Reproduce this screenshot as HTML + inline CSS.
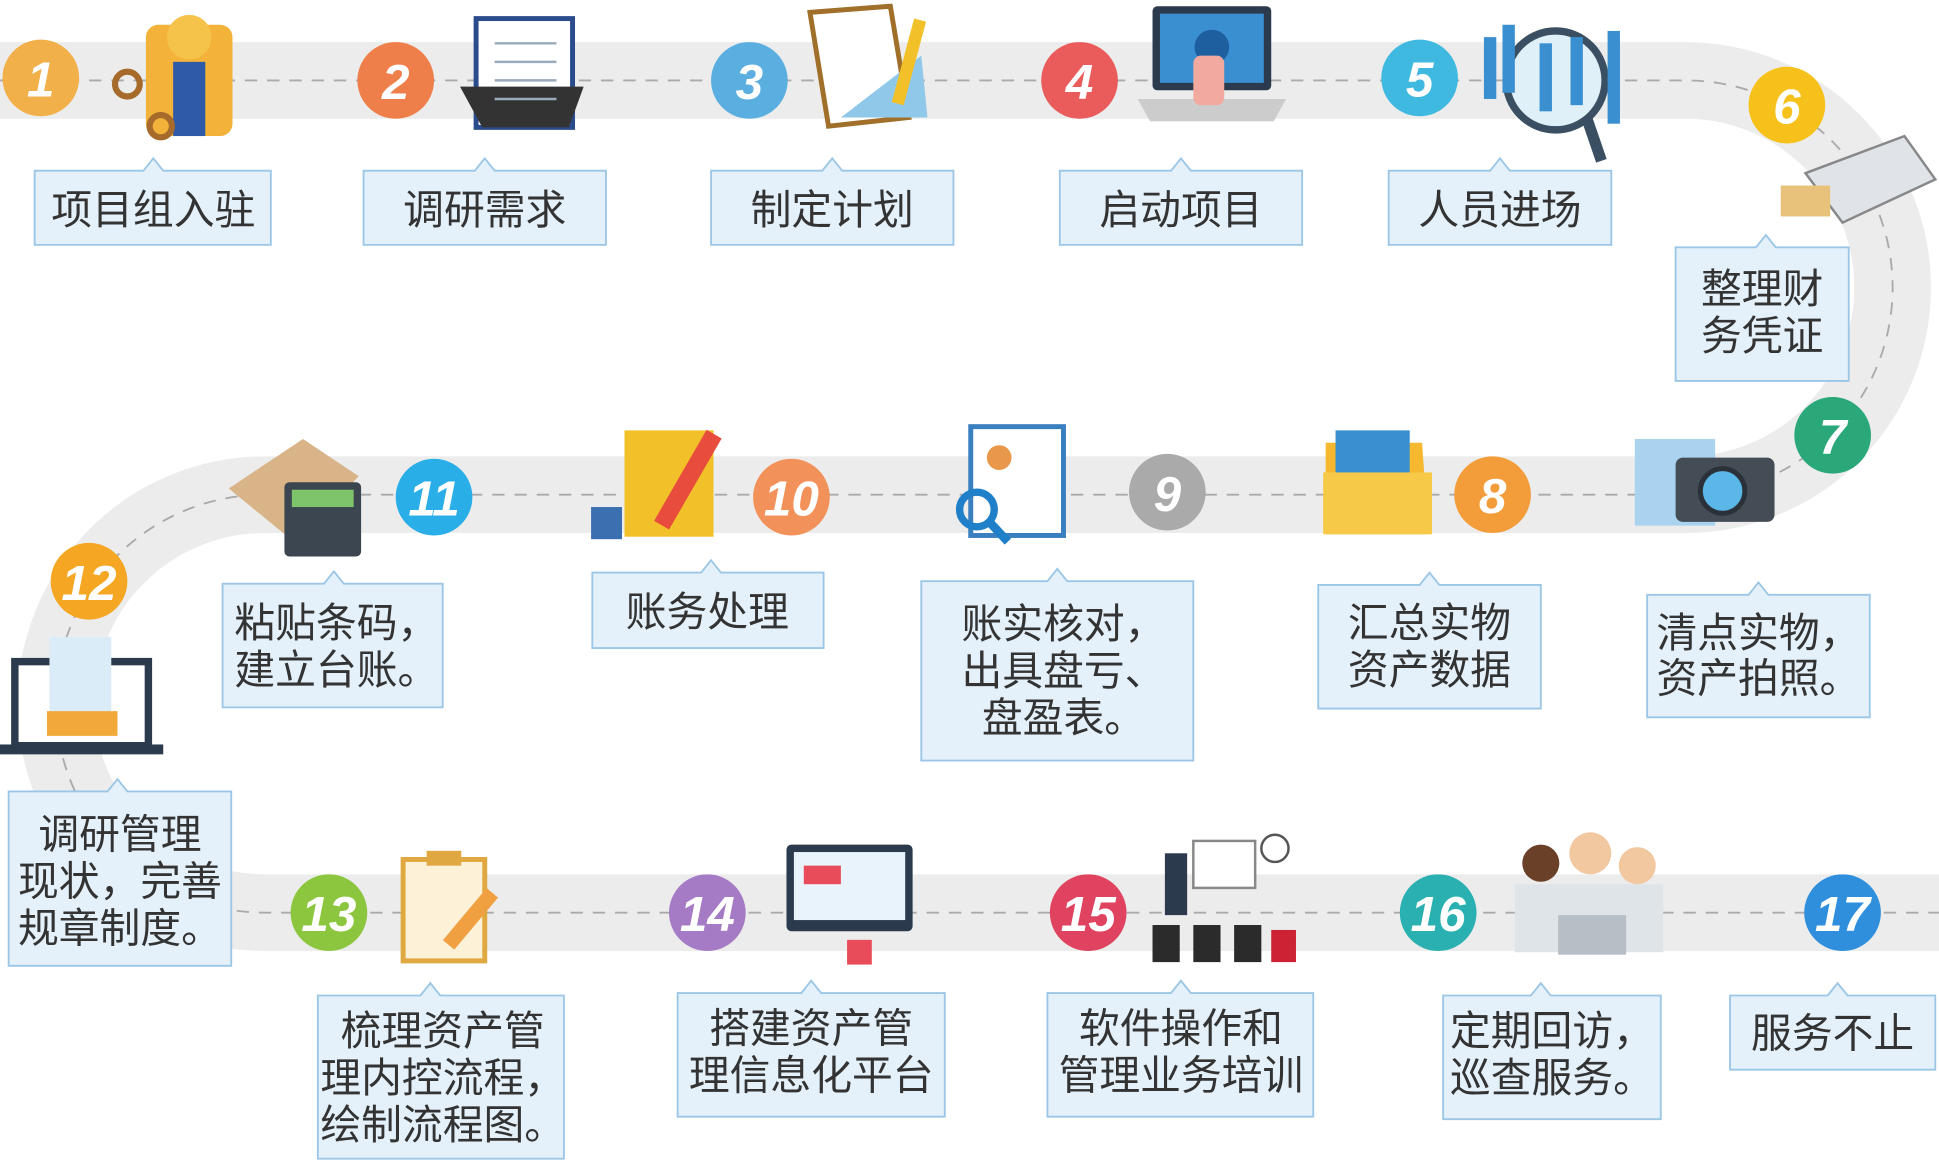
<!DOCTYPE html>
<html><head><meta charset="utf-8"><style>
html,body{margin:0;padding:0;background:#fff;}
svg{display:block;}
text{font-family:"Liberation Sans","Noto Sans CJK SC",sans-serif;}
.lb{font-size:33px;fill:#333;}
.num{font-size:40px;font-weight:bold;font-style:italic;fill:#fff;}
</style></head><body>
<svg width="1939" height="1160" viewBox="0 0 1568 938" xmlns="http://www.w3.org/2000/svg">
<path d="M0,65 L1363,65 A167,167 0 0 1 1363,400 L214,400 A169,169 0 0 0 214,738 L1568,738" fill="none" stroke="#ececec" stroke-width="62"/>
<path d="M0,65 L1363,65 A167,167 0 0 1 1363,400 L214,400 A169,169 0 0 0 214,738 L1568,738" fill="none" stroke="#aaa" stroke-width="1.5" stroke-dasharray="10,8"/>

<g>
<rect x="118" y="20" width="70" height="90" rx="10" fill="#f3b23a"/><circle cx="153" cy="30" r="18" fill="#f5c24a"/><rect x="140" y="50" width="26" height="60" fill="#2e5aa8"/>
<circle cx="103" cy="68" r="10" fill="none" stroke="#a66a2a" stroke-width="5"/><circle cx="130" cy="102" r="9" fill="none" stroke="#a66a2a" stroke-width="5"/>
<rect x="385" y="15" width="78" height="88" fill="#fff" stroke="#2b4c8c" stroke-width="4"/><path d="M372,70 L390,103 L460,103 L472,70" fill="#333"/><g stroke="#9ab" stroke-width="2"><line x1="400" y1="35" x2="450" y2="35"/><line x1="400" y1="50" x2="450" y2="50"/><line x1="400" y1="65" x2="450" y2="65"/><line x1="400" y1="80" x2="450" y2="80"/></g>
<path d="M655,10 L720,5 L735,95 L670,102 Z" fill="#fff" stroke="#a0702a" stroke-width="4"/><path d="M680,95 L745,45 L750,95 Z" fill="#8fc8e8"/><rect x="730" y="15" width="10" height="70" fill="#f2c12a" transform="rotate(15 735 50)"/>
<rect x="932" y="5" width="96" height="68" rx="4" fill="#2b3a4c"/><rect x="938" y="11" width="84" height="56" fill="#3a8fd0"/><circle cx="980" cy="38" r="14" fill="#1e5fa0"/><path d="M920,80 L1040,80 L1030,98 L930,98 Z" fill="#ccc"/><rect x="965" y="45" width="25" height="40" rx="6" fill="#f1a9a0"/>
<circle cx="1258" cy="65" r="40" fill="#dff0f8" stroke="#3b4f63" stroke-width="6"/><line x1="1283" y1="95" x2="1295" y2="130" stroke="#3b4f63" stroke-width="9"/>
<g fill="#3a8fd0"><rect x="1200" y="30" width="10" height="50"/><rect x="1215" y="20" width="10" height="55"/><rect x="1245" y="35" width="10" height="55"/><rect x="1270" y="30" width="10" height="55"/><rect x="1300" y="25" width="10" height="75"/></g>
<path d="M1460,140 L1540,110 L1565,145 L1490,180 Z" fill="#e0e4e8" stroke="#888" stroke-width="2"/><rect x="1440" y="150" width="40" height="25" fill="#e8c27a"/>
<rect x="1322" y="355" width="65" height="70" fill="#a9d3ef"/><rect x="1355" y="370" width="80" height="52" rx="6" fill="#444c55"/><circle cx="1393" cy="397" r="18" fill="#5ab7e8" stroke="#2a3138" stroke-width="4"/>
<path d="M1072,358 L1150,358 L1155,432 L1072,432 Z" fill="#f5b82e"/><rect x="1080" y="348" width="60" height="40" fill="#3a8fd0"/><rect x="1070" y="382" width="88" height="50" fill="#f7c948"/>
<rect x="785" y="345" width="75" height="88" fill="#fff" stroke="#3a7fbf" stroke-width="4"/><circle cx="808" cy="370" r="10" fill="#e9974a"/><circle cx="790" cy="412" r="14" fill="none" stroke="#1f7fc8" stroke-width="6"/><line x1="800" y1="422" x2="815" y2="438" stroke="#1f7fc8" stroke-width="7"/>
<rect x="505" y="348" width="72" height="86" fill="#f2c12a"/><rect x="548" y="345" width="14" height="85" fill="#e84c3d" transform="rotate(30 555 390)"/><rect x="478" y="410" width="25" height="26" fill="#3a6fb0"/>
<path d="M185,395 L245,355 L290,385 L240,440 Z" fill="#d9b489"/><rect x="230" y="390" width="62" height="60" rx="4" fill="#3c4650"/><rect x="236" y="396" width="50" height="14" fill="#7ec46a"/>
<rect x="12" y="535" width="108" height="68" fill="#fff" stroke="#2b3a4c" stroke-width="6"/><rect x="0" y="602" width="132" height="8" fill="#2b3a4c"/><rect x="40" y="515" width="50" height="70" fill="#d9ecf8"/><path d="M38,575 L95,575 L95,595 L38,595 Z" fill="#f2a93a"/>
<rect x="326" y="695" width="66" height="82" fill="#fdf1d8" stroke="#e0a840" stroke-width="4"/><rect x="345" y="688" width="28" height="12" fill="#e0a840"/><rect x="375" y="715" width="12" height="55" fill="#f0a040" transform="rotate(40 380 742)"/>
<rect x="636" y="683" width="102" height="70" rx="4" fill="#2b3a4c"/><rect x="642" y="689" width="90" height="55" fill="#e9f3fb"/><rect x="650" y="700" width="30" height="15" fill="#e84c5a"/><rect x="685" y="760" width="20" height="20" fill="#e84c5a"/>
<rect x="965" y="680" width="50" height="38" fill="#fff" stroke="#888" stroke-width="2"/><circle cx="1031" cy="686" r="11" fill="none" stroke="#555" stroke-width="2"/><rect x="942" y="690" width="18" height="50" fill="#2b3a4c"/>
<g fill="#2b2b2b"><rect x="932" y="748" width="22" height="30"/><rect x="965" y="748" width="22" height="30"/><rect x="998" y="748" width="22" height="30"/><rect x="1028" y="752" width="20" height="26" fill="#c23"/></g>
<circle cx="1246" cy="698" r="15" fill="#6a4028"/><circle cx="1286" cy="690" r="17" fill="#f1c8a0"/><circle cx="1324" cy="700" r="15" fill="#f1c8a0"/><path d="M1225,715 L1345,715 L1345,770 L1225,770 Z" fill="#dfe4e8"/><rect x="1260" y="740" width="55" height="32" fill="#b7bfc6"/>
</g>

<g>
<circle cx="33" cy="63" r="31" fill="#f2b04a"/><text class="num" x="33" y="78" text-anchor="middle">1</text>
<circle cx="320" cy="65" r="31" fill="#ef7f4a"/><text class="num" x="320" y="80" text-anchor="middle">2</text>
<circle cx="606" cy="65" r="31" fill="#5aaee0"/><text class="num" x="606" y="80" text-anchor="middle">3</text>
<circle cx="873" cy="65" r="31" fill="#ea5b5b"/><text class="num" x="873" y="80" text-anchor="middle">4</text>
<circle cx="1148" cy="63" r="31" fill="#40b9e0"/><text class="num" x="1148" y="78" text-anchor="middle">5</text>
<circle cx="1445" cy="85" r="31" fill="#f5c11a"/><text class="num" x="1445" y="100" text-anchor="middle">6</text>
<circle cx="1482" cy="352" r="31" fill="#2aa87a"/><text class="num" x="1482" y="367" text-anchor="middle">7</text>
<circle cx="1207" cy="400" r="31" fill="#f39c3a"/><text class="num" x="1207" y="415" text-anchor="middle">8</text>
<circle cx="944" cy="398" r="31" fill="#aaaaaa"/><text class="num" x="944" y="413" text-anchor="middle">9</text>
<circle cx="640" cy="402" r="31" fill="#f2915a"/><text class="num" x="640" y="417" text-anchor="middle">10</text>
<circle cx="351" cy="402" r="31" fill="#2aaee8"/><text class="num" x="351" y="417" text-anchor="middle">11</text>
<circle cx="72" cy="470" r="31" fill="#f5a623"/><text class="num" x="72" y="485" text-anchor="middle">12</text>
<circle cx="266" cy="738" r="31" fill="#8cc63f"/><text class="num" x="266" y="753" text-anchor="middle">13</text>
<circle cx="572" cy="738" r="31" fill="#a67bc6"/><text class="num" x="572" y="753" text-anchor="middle">14</text>
<circle cx="880" cy="738" r="31" fill="#e0435f"/><text class="num" x="880" y="753" text-anchor="middle">15</text>
<circle cx="1163" cy="738" r="31" fill="#2ab0b0"/><text class="num" x="1163" y="753" text-anchor="middle">16</text>
<circle cx="1490" cy="738" r="31" fill="#2f8fdc"/><text class="num" x="1490" y="753" text-anchor="middle">17</text>
</g>

<g fill="#e4f1fa" stroke="#9cc6e6" stroke-width="1.5">
<path d="M28,138 H116 L124,128 L132,138 H219 V198 H28 Z"/>
<path d="M294,138 H384 L392,128 L400,138 H490 V198 H294 Z"/>
<path d="M575,138 H665 L673,128 L681,138 H771 V198 H575 Z"/>
<path d="M857,138 H947 L955,128 L963,138 H1053 V198 H857 Z"/>
<path d="M1123,138 H1205 L1213,128 L1221,138 H1303 V198 H1123 Z"/>
<path d="M1355,200 H1420 L1428,190 L1436,200 H1495 V308 H1355 Z"/>
<path d="M1332,481 H1414 L1422,471 L1430,481 H1512 V580 H1332 Z"/>
<path d="M1066,473 H1148 L1156,463 L1164,473 H1246 V573 H1066 Z"/>
<path d="M745,470 H847 L855,460 L863,470 H965 V615 H745 Z"/>
<path d="M479,463 H567 L575,453 L583,463 H666 V524 H479 Z"/>
<path d="M180,472 H262 L270,462 L278,472 H358 V572 H180 Z"/>
<path d="M7,640 H87 L95,630 L103,640 H187 V781 H7 Z"/>
<path d="M257,805 H340 L348,795 L356,805 H456 V937 H257 Z"/>
<path d="M548,803 H648 L656,793 L664,803 H764 V903 H548 Z"/>
<path d="M847,803 H947 L955,793 L963,803 H1062 V903 H847 Z"/>
<path d="M1167,805 H1238 L1246,795 L1254,805 H1343 V905 H1167 Z"/>
<path d="M1399,805 H1478 L1486,795 L1494,805 H1565 V865 H1399 Z"/>
</g>

<g class="lb" text-anchor="middle">
<text x="124" y="181">项目组入驻</text>
<text x="392" y="181">调研需求</text>
<text x="673" y="181">制定计划</text>
<text x="955" y="181">启动项目</text>
<text x="1213" y="181">人员进场</text>
<text x="1425" y="245">整理财</text><text x="1425" y="283">务凭证</text>
<text x="1422" y="523">清点实物，</text><text x="1422" y="560">资产拍照。</text>
<text x="1156" y="515">汇总实物</text><text x="1156" y="553">资产数据</text>
<text x="860" y="516">账实核对，</text><text x="860" y="554">出具盘亏、</text><text x="860" y="592">盘盈表。</text>
<text x="572" y="506">账务处理</text>
<text x="272" y="515">粘贴条码，</text><text x="272" y="553">建立台账。</text>
<text x="97" y="686">调研管理</text><text x="97" y="724">现状，完善</text><text x="97" y="762">规章制度。</text>
<text x="358" y="845">梳理资产管</text><text x="358" y="883">理内控流程，</text><text x="358" y="921">绘制流程图。</text>
<text x="656" y="843">搭建资产管</text><text x="656" y="881">理信息化平台</text>
<text x="955" y="843">软件操作和</text><text x="955" y="881">管理业务培训</text>
<text x="1255" y="845">定期回访，</text><text x="1255" y="883">巡查服务。</text>
<text x="1482" y="847">服务不止</text>
</g>
</svg>
</body></html>
